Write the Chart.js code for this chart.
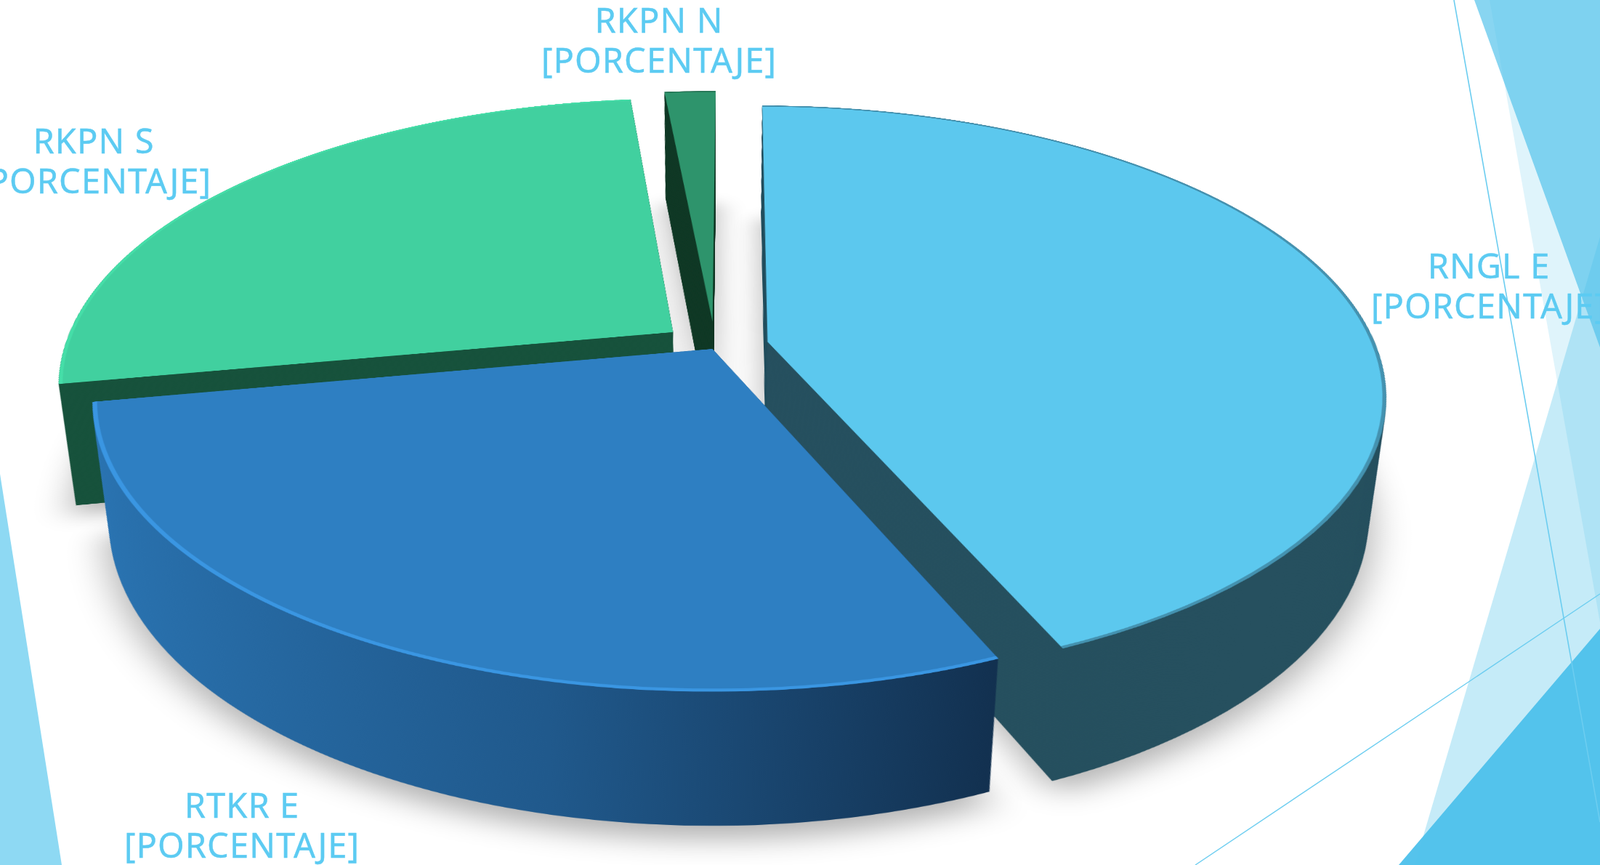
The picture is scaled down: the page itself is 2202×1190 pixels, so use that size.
<!DOCTYPE html>
<html><head><meta charset="utf-8">
<style>
html,body{margin:0;padding:0;width:2202px;height:1190px;overflow:hidden;background:#fff}
#bg{position:absolute;left:0;top:0}
#wrap{position:absolute;left:-216.5px;top:-723px;width:2400px;height:2400px;transform:perspective(4153px) rotateX(62.6deg);transform-origin:50% 50%}
#labels div{position:absolute;width:500px;margin-left:-250px;text-align:center;color:#5CCBF2;font:47px/55px "Noto Sans",sans-serif;letter-spacing:1.1px;-webkit-text-stroke:.4px #5CCBF2;white-space:pre-line}
</style></head><body>
<svg id="bg" width="2202" height="1190">
<polygon points="2050,0 2202,856 2202,0" fill="#4FC1EB" fill-opacity=".18"/>
<polygon points="2202,326 1947,1190 2202,1190" fill="#4FC1EB" fill-opacity=".33"/>
<polygon points="2029,0 2202,478 2202,0" fill="#4FC1EB" fill-opacity=".68"/>
<polygon points="1925,1190 2202,865 2202,1190" fill="#4FC1EB" fill-opacity=".97"/>
<polygon points="0,652 85,1190 0,1190" fill="#8ED9F3"/>
<line x1="2001" y1="0" x2="2202" y2="1131" stroke="#6ccdf0" stroke-width="1.6"/>
<line x1="1645" y1="1190" x2="2202" y2="817" stroke="#6ccdf0" stroke-width="1.4"/>
</svg>
<div id="wrap"><canvas id="c" width="2400" height="2400"></canvas></div>
<div id="labels"></div>
<script src="https://cdn.jsdelivr.net/npm/chart.js@4"></script>
<script>
const categories=["RNGL E","RTKR E","RKPN S","RKPN N"];
const values=[43.5,28.5,26.4,1.6];
const percentLabel="[PORCENTAJE]";
const explode=[74,7.5,73,76];
const topColors=["#5CC8EE","#2E7FC2","#41D09F","#2E946C"];
const wallColors=["#26505F",null,"#17523C","#113A27"];
const rimColors=["rgba(40,80,100,.45)","#3A96E2","rgba(70,225,170,.8)","rgba(30,80,60,.4)"];
const labelPos=[[2049,338],[333,1080],[129,166],[907,0]];

const depth=332, shrink=0.095, layers=170, order=[3,2,0,1];
function shift(a,i){const h=(a.startAngle+a.endAngle)/2;return [Math.cos(h)*explode[i],Math.sin(h)*explode[i]];}
function sector(ctx,a,i){
  const [dx,dy]=shift(a,i),x=a.x+dx,y=a.y+dy;
  ctx.beginPath();ctx.moveTo(x,y);ctx.arc(x,y,a.outerRadius,a.startAngle,a.endAngle);ctx.closePath();
}
function atLayer(ctx,a,t,fn){
  ctx.save();
  ctx.translate(a.x,a.y+depth*t);const s=1-shrink*t;ctx.scale(s,s);ctx.translate(-a.x,-a.y);
  fn();ctx.restore();
}
const solid={id:'solid',
 beforeDatasetDraw(chart){
  const ctx=chart.ctx,arcs=chart.getDatasetMeta(0).data;
  // soft cast shadow under the lower face
  order.forEach(i=>{const a=arcs[i];
    ctx.save();ctx.shadowColor='rgba(0,0,0,.3)';ctx.shadowBlur=46;ctx.shadowOffsetY=24;ctx.fillStyle='#aaa';
    atLayer(ctx,a,1,()=>{sector(ctx,a,i);ctx.fill();});ctx.restore();
  });
  // side walls
  order.forEach(i=>{const a=arcs[i];
    let fill=wallColors[i];
    if(!fill){const g=ctx.createLinearGradient(a.x-830,0,a.x+330,0);
      g.addColorStop(0,'#2A74B2');g.addColorStop(.55,'#20598C');g.addColorStop(1,'#12304F');fill=g;}
    for(let k=layers;k>=0;k--){
      atLayer(ctx,a,k/layers,()=>{ctx.fillStyle=fill;sector(ctx,a,i);ctx.fill();});
    }
  });
  // top faces: the library's own arc elements, pulled out of the centre
  arcs.forEach((a,i)=>{const [dx,dy]=shift(a,i);
    ctx.save();ctx.translate(dx,dy);a.draw(ctx);
    ctx.strokeStyle=rimColors[i];ctx.lineWidth=i===1?6:5;
    ctx.beginPath();ctx.arc(a.x,a.y,a.outerRadius-ctx.lineWidth/2,a.startAngle,a.endAngle);ctx.stroke();
    ctx.restore();
  });
  return false;
 }};
new Chart(document.getElementById('c'),{type:'pie',
 data:{labels:categories,datasets:[{data:values,backgroundColor:topColors,borderWidth:0}]},
 options:{responsive:false,animation:false,devicePixelRatio:1,rotation:0.3,
  layout:{padding:362},events:[],
  plugins:{legend:{display:false},tooltip:{enabled:false}}},
 plugins:[solid]});
const box=document.getElementById('labels');
categories.forEach((c,i)=>{const d=document.createElement('div');
  d.textContent=c+"\n"+percentLabel;d.style.left=labelPos[i][0]+'px';d.style.top=labelPos[i][1]+'px';box.appendChild(d);});
</script>
</body></html>
